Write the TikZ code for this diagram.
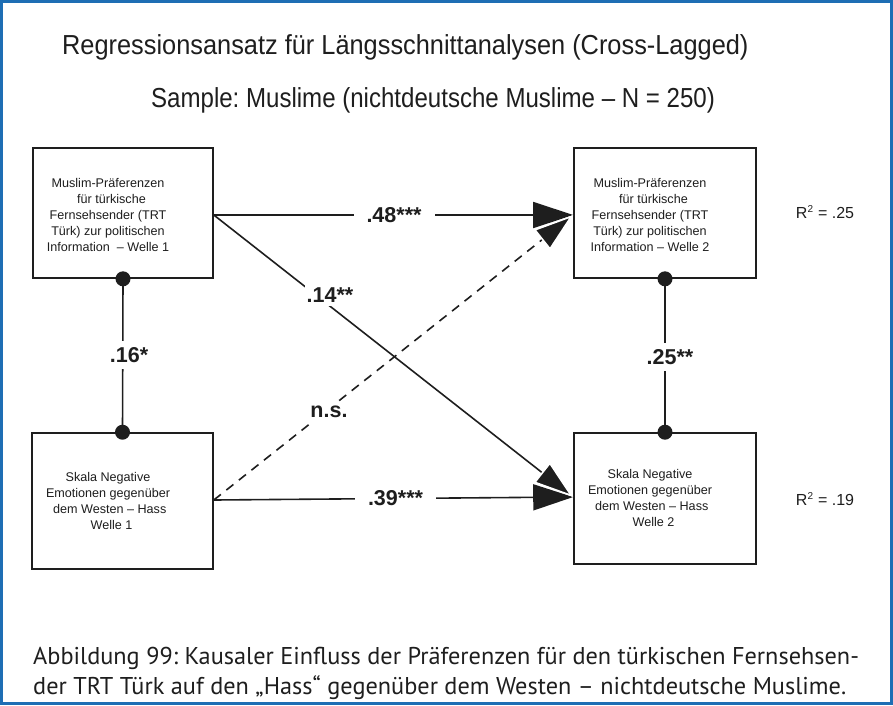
\documentclass[tikz,border=0pt]{standalone}
\usepackage{fontspec}
\setmainfont{Liberation Sans}
\newfontfamily\capfont{PT Sans}
\usetikzlibrary{arrows.meta}
\definecolor{frameblue}{RGB}{30,110,180}
\definecolor{ink}{RGB}{30,30,30}
\frenchspacing
\begin{document}
\begin{tikzpicture}[x=1pt,y=-1pt,
  box/.style={draw=ink,line width=1.6pt,fill=white,inner sep=0pt},
  boxtext/.style={align=center,inner sep=0pt,text=ink,font=\fontsize{12.6}{15.8}\selectfont},
  conn/.style={draw=ink,line width=1.6pt},
  arr/.style={conn,-{Triangle[length=40pt,width=26pt]}},
  arrw/.style={conn,-{Triangle[length=40pt,width=26pt,fill=ink,color=white]}},
  coef/.style={fill=white,inner xsep=13pt,inner ysep=6pt,text=ink,font=\fontsize{21.5}{24}\selectfont\bfseries},
  rsq/.style={text=ink,font=\fontsize{16}{19}\selectfont},
  ttl/.style={inner sep=0pt,text=ink,font=\fontsize{27.5}{30}\selectfont},
  captext/.style={anchor=base west,inner sep=0pt,text=ink,font=\capfont\fontsize{24.3}{28}\selectfont},
  dotc/.style={fill=ink}]
\useasboundingbox (0,0) rectangle (893,705);
\draw[frameblue,line width=3pt] (1.5,1.5) rectangle (891.5,703.5);

% titles
\node[ttl,anchor=base west,xscale=0.922] (title) at (62,54) {Regressionsansatz für Längsschnittanalysen (Cross-Lagged)};
\node[ttl,anchor=base west,xscale=0.875] (sub) at (151,107) {Sample: Muslime (nichtdeutsche Muslime – N = 250)};

% boxes
\node[box,minimum width=180pt,minimum height=130pt] (A) at (123,213) {};
\node[box,minimum width=182pt,minimum height=130pt] (B) at (665,213) {};
\node[box,minimum width=181pt,minimum height=136pt] (C) at (122.5,501) {};
\node[box,minimum width=182pt,minimum height=131pt] (D) at (665,498.5) {};

\node[boxtext] (At) at (108,215) {Muslim-Präferenzen\\ \ \ für türkische\\Fernsehsender (TRT\\Türk) zur politischen\\Information\ \ – Welle 1};
\node[boxtext] (Bt) at (650,215) {Muslim-Präferenzen\\ \ \ für türkische\\Fernsehsender (TRT\\Türk) zur politischen\\Information – Welle 2};
\node[boxtext] (Ct) at (108,501) {Skala Negative\\Emotionen gegenüber\\ \ dem Westen – Hass\\ \ \ Welle 1};
\node[boxtext] (Dt) at (650,498) {Skala Negative\\Emotionen gegenüber\\ \ dem Westen – Hass\\ \ \ Welle 2};

% connectors
\draw[arr] ([yshift=-2pt]A.east) -- ([yshift=-2pt]B.west);
\draw[arr] ([yshift=1pt]C.east) -- ([yshift=1.5pt]D.west);
\draw[arrw] ([yshift=-2pt]A.east) -- ([yshift=1.5pt]D.west);
\draw[arrw,dash pattern=on 9pt off 7pt] ([yshift=1pt]C.east) -- ([yshift=-2pt]B.west);
\draw[conn] (A.south) -- (C.north);
\draw[conn] (B.south) -- (D.north);

% coefficient labels
\node[coef] (l48) at (394,215) {.48***};
\node[coef] (l39) at (395.5,498) {.39***};
\node[coef,inner xsep=4pt] (l16) at (129,355) {.16*};
\node[coef,inner xsep=4pt] (l25) at (670,357) {.25**};
\node[coef,inner xsep=2pt,inner ysep=4pt] (l14) at (330,295) {.14**};
\node[coef,inner xsep=2pt,inner ysep=4pt] (lns) at (329,412) {n.s.};

% dots
\fill[dotc] (A.south) circle (7.5pt);
\fill[dotc] (C.north) circle (7.5pt);
\fill[dotc] (B.south) circle (7.5pt);
\fill[dotc] (D.north) circle (7.5pt);

% R squared
\node[rsq] (r1) at (825,212) {R\textsuperscript{\fontsize{10}{10}\selectfont 2} = .25};
\node[rsq] (r2) at (825,499) {R\textsuperscript{\fontsize{10}{10}\selectfont 2} = .19};

% caption
\node[captext] (cap1) at (33,664) {Abbildung 99: Kausaler Einfluss der Präferenzen für den türkischen Fernsehsen-};
\node[captext] (cap2) at (33,694) {der TRT Türk auf den „Hass“ gegenüber dem Westen – nichtdeutsche Muslime.};
\end{tikzpicture}
\end{document}
